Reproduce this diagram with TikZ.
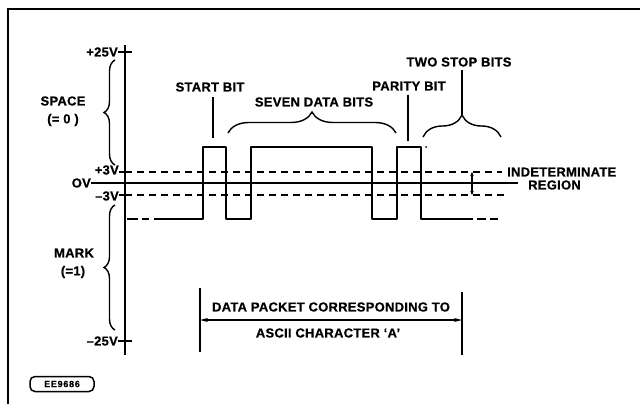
\documentclass[tikz,border=0pt]{standalone}
\usepackage{fontspec}
\setmainfont{Liberation Sans}
\newfontfamily\labfont[LetterSpace=2,FakeBold=0.6]{Liberation Sans Bold}
\newfontfamily\codefont[LetterSpace=8,FakeBold=0.5]{Liberation Sans Bold}
\usetikzlibrary{decorations.pathreplacing,arrows.meta}
\begin{document}
\begin{tikzpicture}[x=1pt,y=-1pt,
  lab/.style={font=\labfont\fontsize{13}{14}\selectfont, inner sep=0pt},
  wave/.style={line width=2.8pt, line join=round},
  thr/.style={line width=1.8pt, dash pattern=on 7pt off 5pt},
  thinline/.style={line width=1.4pt},
  brc/.style={decorate, decoration={brace, amplitude=#1}, line width=1.4pt},
  tip/.style={{Stealth[length=8pt,width=4pt]}-{Stealth[length=8pt,width=4pt]}},
  smalltip/.style={{Stealth[length=4pt,width=3.5pt]}-{Stealth[length=4pt,width=3.5pt]}}
]
\useasboundingbox (0,0) rectangle (640,404);
\fill[white] (0,0) rectangle (640,404);

% frame
\draw[line width=1.5pt] (640,9) -- (8,9) -- (8,404);

% axis
\coordinate (axtop) at (125,45);
\coordinate (axbot) at (125,355);
\draw[line width=2.4pt] (axtop) -- (axbot);

% ticks and labels
\node[lab, anchor=east] (p25) at (118,52) {+25V};
\node[lab, anchor=east] (p3) at (119,170) {+3V};
\node[lab, anchor=east] (z0) at (91,183) {OV};
\node[lab, anchor=east] (m3) at (119,196) {–3V};
\node[lab, anchor=east] (m25) at (118,341) {–25V};
\draw[thinline] (p25.east) -- (132,52);
\draw[thinline] (m25.east) -- (132,341);
\draw[thinline] (p3.east |- 0,172) -- (125,172);
\draw[thinline] (m3.east |- 0,195) -- (125,195);

% threshold lines
\draw[thr] (125,172) -- (502,172);
\draw[thr] (125,195) -- (506,195);
\draw[line width=1.8pt] (z0.east) -- (518,183);

% waveform
\draw[wave] (127,219) -- (138,219);
\draw[wave] (142,219) -- (149,219);
\draw[wave] (154,219) -- (203,219) -- (203,147) -- (226,147) -- (226,219)
  -- (251,219) -- (251,147) -- (372,147) -- (372,219) -- (397,219)
  -- (397,147) -- (421,147) -- (421,219) -- (473,219);
\draw[wave] (477,219) -- (486,219);
\draw[wave] (490,219) -- (498,219);
\fill (426,147) circle (1pt);

% space / mark braces
\draw[brc=11pt] (115,165) -- (115,60);
\draw[brc=11pt] (115,330) -- (115,205);
\node[lab] (space) at (63,101) {SPACE};
\node[lab] (space0) at (63,120) {(= 0 )};
\node[lab] (mark) at (74,253) {MARK};
\node[lab] (mark1) at (73,272) {(=1)};

% start bit
\node[lab] (start) at (210,87) {START BIT};
\coordinate (startend) at (213,138);
\draw[thinline] ([yshift=-5pt]start.south -| startend) -- (startend);

% seven data bits
\node[lab] (seven) at (314,102) {SEVEN DATA BITS};
\draw[brc=21pt] (228,133) -- (396,133);

% parity bit
\node[lab] (parity) at (409,86) {PARITY BIT};
\coordinate (parend) at (408,141);
\draw[thinline] ([yshift=-4pt]parity.south -| parend) -- (parend);

% two stop bits
\node[lab] (stop) at (459,62) {TWO STOP BITS};
\draw[brc=22pt] (423,137) -- (501,137);
\coordinate (stoptip) at (462,115);
\draw[thinline] ([yshift=-3pt]stop.south -| stoptip) -- (stoptip);

% indeterminate region
\node[lab, anchor=west] (indet) at (507,172) {INDETERMINATE};
\node[lab, anchor=west] (region) at (528,185) {REGION};
\coordinate (ia) at (472,172);
\coordinate (ib) at (472,195);
\draw[thinline, smalltip] (ia) -- (ib);

% data packet
\coordinate (bl1) at (200,288);
\coordinate (bl2) at (200,352);
\coordinate (br1) at (462,292);
\coordinate (br2) at (462,355);
\draw[thinline] (bl1) -- (bl2);
\draw[thinline] (br1) -- (br2);
\coordinate (al) at (200,320);
\coordinate (ar) at (462,320);
\draw[thinline, tip] (al) -- (ar);
\node[lab] (dp1) at (331,307) {DATA PACKET CORRESPONDING TO};
\node[lab] (dp2) at (328,333) {ASCII CHARACTER ‘A’};

% figure code
\node[draw, line width=1.5pt, rounded corners=5pt, minimum width=64pt,
  minimum height=15pt, inner sep=0pt,
  font=\codefont\fontsize{9}{10}\selectfont] (code) at (62,384) {EE9686};
\end{tikzpicture}
\end{document}
